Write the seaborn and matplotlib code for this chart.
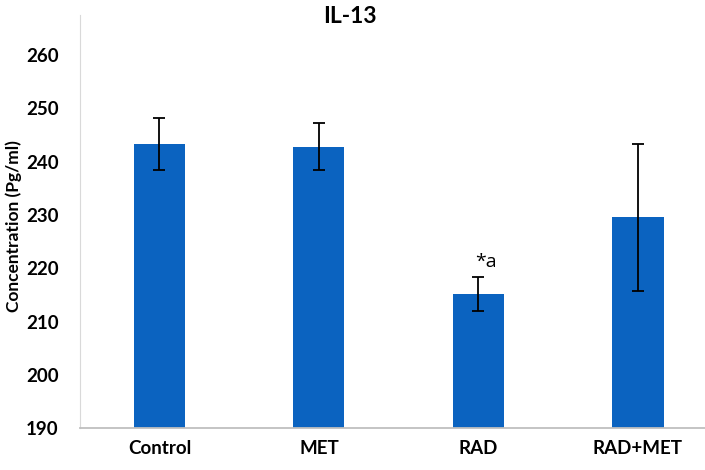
import matplotlib

matplotlib.use("Agg")

import matplotlib.pyplot as plt
import pandas as pd
import seaborn as sns

groups = ["Control", "MET", "RAD", "RAD+MET"]
means = [243.3, 242.8, 215.2, 229.6]
errors = [4.8, 4.4, 3.2, 13.8]
marks = ["", "", "*a", ""]

sns.set_style("white")
plt.rcParams["font.family"] = ["Lato", "DejaVu Sans"]
plt.rcParams["text.color"] = "black"
plt.rcParams["xtick.color"] = "black"
plt.rcParams["ytick.color"] = "black"
plt.rcParams["axes.labelcolor"] = "black"

df = pd.DataFrame({"group": groups, "mean": means})

fig = plt.figure(figsize=(7.05, 4.7), dpi=100)
ax = fig.add_axes([0.113, 0.089, 0.887, 0.879])

sns.barplot(data=df, x="group", y="mean", color="#0B63C0", saturation=1,
            width=0.32, errorbar=None, linewidth=0, ax=ax)
ax.errorbar(range(len(groups)), means, yerr=errors, fmt="none",
            ecolor="black", elinewidth=1.3, capsize=4, capthick=1.3)

for i, m in enumerate(marks):
    if m:
        ax.text(i + 0.045, means[i] + errors[i] + 2.8, m, ha="center", va="center",
                fontsize=14, family=["Open Sans", "DejaVu Sans"])

ax.set_ylim(190, 267.5)
ax.set_xlim(-0.5, 3.42)
ax.set_yticks(range(190, 261, 10))
ax.set_xlabel("")
ax.set_ylabel("Concentration (Pg/ml)", fontsize=12.5, fontweight="bold")
ax.yaxis.set_label_coords(-0.093, 0.49)
ax.tick_params(axis="y", length=0, labelsize=13.5, pad=15)
ax.tick_params(axis="x", length=0, labelsize=13.5, pad=8.5)
for lbl in ax.get_xticklabels() + ax.get_yticklabels():
    lbl.set_fontweight("bold")

for side in ["top", "right"]:
    ax.spines[side].set_visible(False)
ax.spines["left"].set_color("#d9d9d9")
ax.spines["bottom"].set_color("#bfbfbf")
ax.spines["bottom"].set_linewidth(1.3)

fig.text(0.497, 0.964, "IL-13", ha="center", va="center", fontsize=16.5,
         fontweight="bold")

fig.savefig("out.png", dpi=100)
plt.close(fig)
